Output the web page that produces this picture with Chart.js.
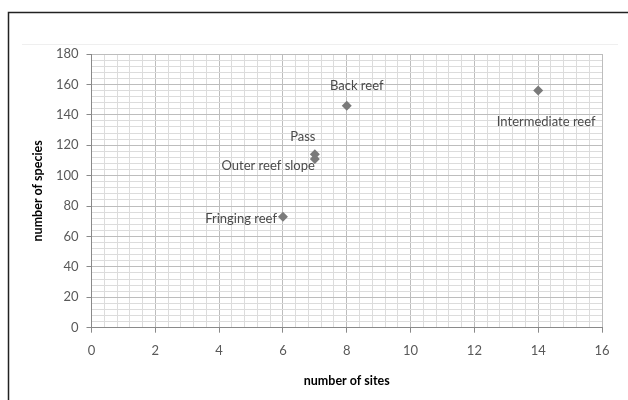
<!DOCTYPE html>
<html>
<head>
<meta charset="utf-8">
<script src="https://cdn.jsdelivr.net/npm/chart.js@4/dist/chart.umd.min.js"></script>
<style>
  html, body { margin: 0; padding: 0; background: #fff; }
  #wrap { width: 628px; height: 400px; position: relative; }
</style>
</head>
<body>
<div id="wrap"><canvas id="reef-chart" width="628" height="400"></canvas></div>
<script>
// ==== data ====
var siteNames = ['Fringing reef', 'Outer reef slope', 'Pass', 'Back reef', 'Intermediate reef'];
var numSites = [6, 7, 7, 8, 14];
var numSpecies = [73, 111, 114, 146, 156];

var xMin = 0, xMax = 16, xMajor = 2, xMinor = 0.4;
var yMin = 0, yMax = 180, yMajor = 20, yMinor = 4;

// label placement around each point (dx, dy, align)
var labelPos = [
  { dx: -6, dy: 2, align: 'right' },
  { dx: 0, dy: 7, align: 'right' },
  { dx: -12, dy: -18, align: 'center' },
  { dx: 10, dy: -20, align: 'center' },
  { dx: 8, dy: 31, align: 'center' }
];

var points = numSites.map(function (x, i) { return { x: x, y: numSpecies[i] }; });

function isMajor(v, step) {
  return Math.abs(v / step - Math.round(v / step)) < 1e-6;
}

var textGray = '#595959';

// ==== point labels + frame ====
var decoPlugin = {
  id: 'deco',
  beforeDraw: function (chart) {
    var ctx = chart.ctx;
    ctx.save();
    ctx.strokeStyle = '#efefef';
    ctx.lineWidth = 1;
    ctx.beginPath();
    ctx.moveTo(22, 44.5);
    ctx.lineTo(618, 44.5);
    ctx.stroke();
    ctx.strokeStyle = '#222';
    ctx.lineWidth = 1.5;
    ctx.beginPath();
    ctx.moveTo(8.5, 400);
    ctx.lineTo(8.5, 12.5);
    ctx.lineTo(628, 12.5);
    ctx.stroke();
    ctx.restore();
  },
  afterDatasetsDraw: function (chart) {
    var ctx = chart.ctx;
    var xs = chart.scales.x, ys = chart.scales.y;
    ctx.save();
    ctx.font = '13px Lato';
    ctx.fillStyle = '#4a4a4a';
    ctx.textBaseline = 'middle';
    siteNames.forEach(function (name, i) {
      var p = labelPos[i];
      ctx.textAlign = p.align;
      ctx.fillText(name, xs.getPixelForValue(numSites[i]) + p.dx, ys.getPixelForValue(numSpecies[i]) + p.dy);
    });
    ctx.restore();
  }
};

var ctxReef = document.getElementById('reef-chart').getContext('2d');

var reefChart = new Chart(ctxReef, {
  type: 'scatter',
  data: {
    datasets: [{
      label: 'species',
      data: points,
      pointStyle: 'rectRot',
      pointRadius: 5,
      pointHoverRadius: 5,
      backgroundColor: '#7a7a7a',
      borderColor: '#7a7a7a',
      borderWidth: 0
    }]
  },
  options: {
    responsive: false,
    animation: false,
    events: [],
    layout: { padding: { left: 30, top: 54, right: 26, bottom: 12 } },
    plugins: {
      legend: { display: false },
      tooltip: { enabled: false }
    },
    scales: {
      x: {
        type: 'linear',
        min: xMin,
        max: xMax,
        afterFit: function (s) { s.height = 60.3; },
        ticks: {
          stepSize: xMinor,
          autoSkip: false,
          maxRotation: 0,
          padding: 10,
          color: textGray,
          font: { family: 'Lato', size: 13 },
          callback: function (v) { return isMajor(v, xMajor) ? String(v) : ''; }
        },
        grid: {
          color: function (c) { return isMajor(c.tick.value, xMajor) ? '#bdbdbd' : '#dcdcdc'; },
          tickColor: function (c) { return isMajor(c.tick.value, xMajor) ? '#898989' : 'rgba(0,0,0,0)'; },
          tickLength: 5
        },
        border: { color: '#898989' },
        title: {
          display: true,
          text: 'number of sites',
          color: '#000',
          padding: 0,
          font: { family: 'Lato', size: 12.5, weight: 'bold' }
        }
      },
      y: {
        type: 'linear',
        min: yMin,
        max: yMax,
        afterFit: function (s) { s.width = 61.5; },
        ticks: {
          stepSize: yMinor,
          autoSkip: false,
          padding: 8,
          color: textGray,
          font: { family: 'Lato', size: 13 },
          callback: function (v) { return isMajor(v, yMajor) ? String(v) : ''; }
        },
        grid: {
          color: function (c) { return isMajor(c.tick.value, yMajor) ? '#bdbdbd' : '#dcdcdc'; },
          tickColor: function (c) { return isMajor(c.tick.value, yMajor) ? '#898989' : 'rgba(0,0,0,0)'; },
          tickLength: 5
        },
        border: { color: '#898989' },
        title: {
          display: true,
          text: 'number of species',
          color: '#000',
          padding: 0,
          font: { family: 'Lato', size: 12.5, weight: 'bold' }
        }
      }
    }
  },
  plugins: [decoPlugin]
});
</script>
</body>
</html>
